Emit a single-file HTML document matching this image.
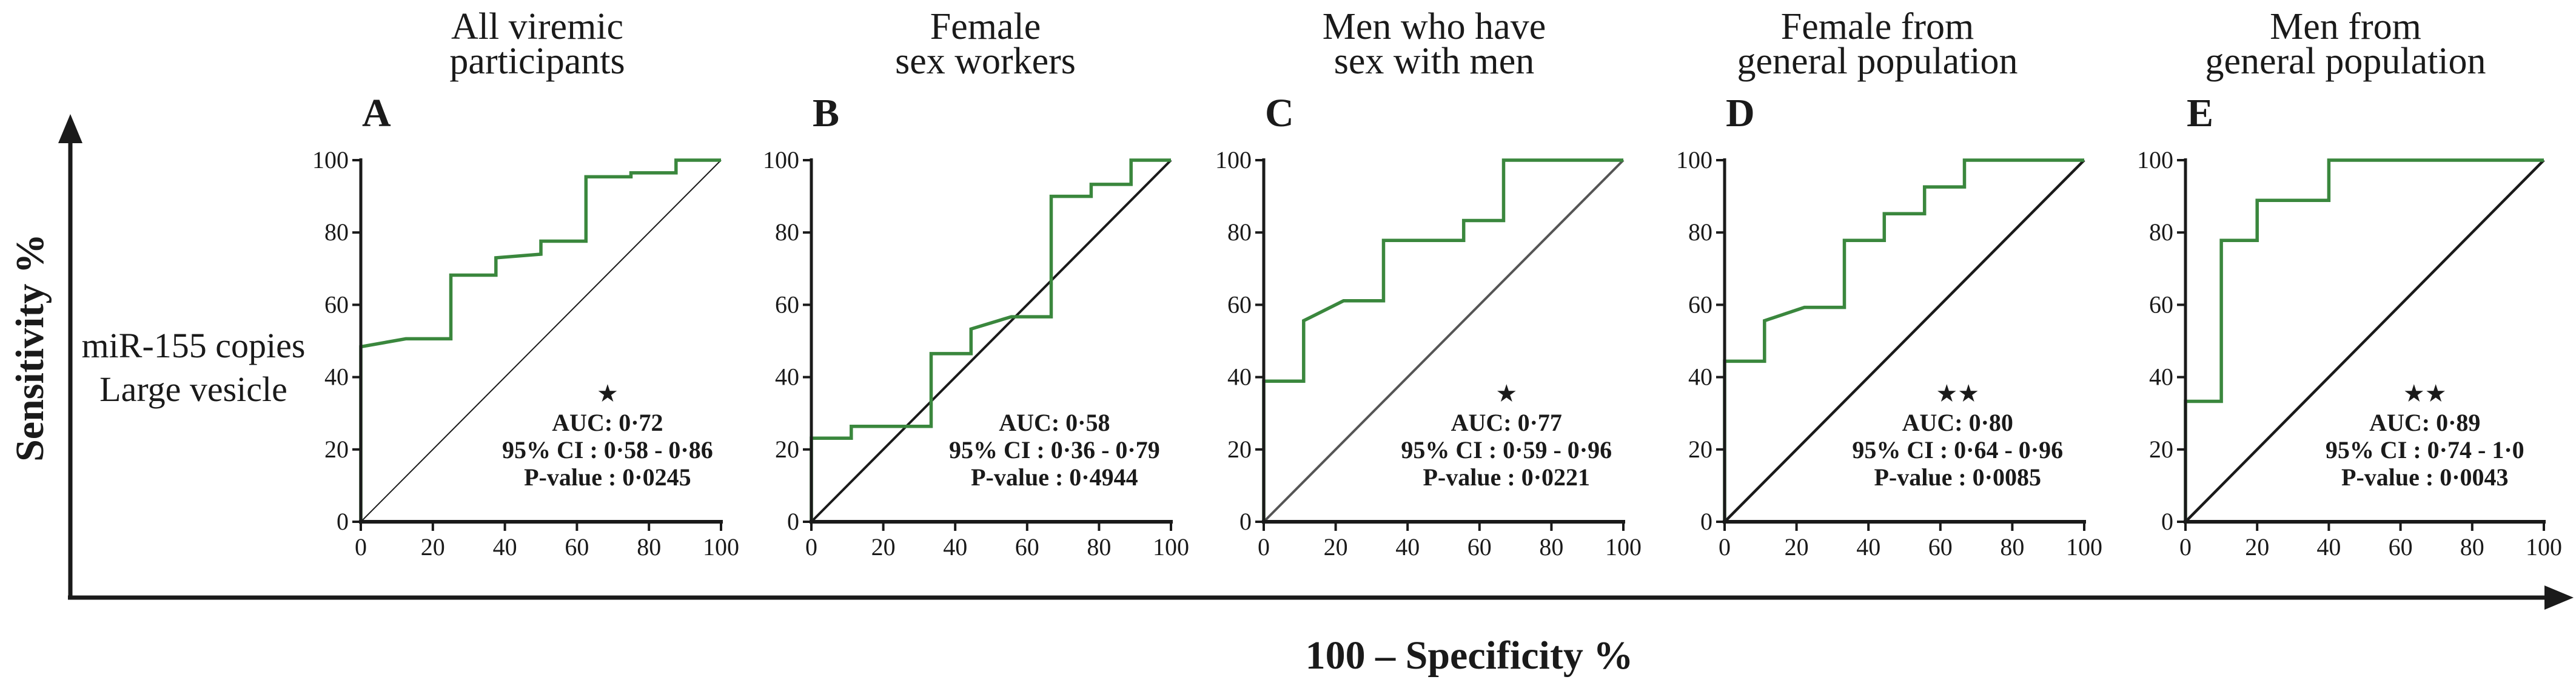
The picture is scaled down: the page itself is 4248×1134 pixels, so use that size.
<!DOCTYPE html>
<html><head><meta charset="utf-8"><style>
html,body{margin:0;padding:0;background:#fff;}
svg{display:block;}
text{font-family:"Liberation Serif",serif;fill:#1a1a1a;}
</style></head><body>
<svg id="fig" width="4248" height="1134" viewBox="0 0 4248 1134" xmlns="http://www.w3.org/2000/svg">
<g>
<line x1="116" y1="230" x2="116" y2="985" stroke="#1a1a1a" stroke-width="7"/>
<polygon points="116,188 96,236 136,236" fill="#1a1a1a"/>
<line x1="112" y1="985" x2="4200" y2="985" stroke="#1a1a1a" stroke-width="7"/>
<polygon points="4244,985 4196,965 4196,1005" fill="#1a1a1a"/>
<text transform="translate(71,573) rotate(-90)" text-anchor="middle" font-size="66" font-weight="bold">Sensitivity %</text>
<text x="2423" y="1102" text-anchor="middle" font-size="66" font-weight="bold">100 – Specificity %</text>
<text x="319" y="589" text-anchor="middle" font-size="58">miR-155 copies</text>
<text x="319" y="661" text-anchor="middle" font-size="58">Large vesicle</text>
</g>
<g id="panels"></g>
</svg>
<script>
// Panel A: All viremic participants
const fprA = [0,0,12.5,25,25,37.5,37.5,50,50,62.5,62.5,75,75,87.5,87.5,100];
const tprA = [0,48.4,50.6,50.6,68.2,68.2,73,74,77.6,77.6,95.4,95.4,96.5,96.5,100,100];
// Panel B: Female sex workers
const fprB = [0,0,11.1,11.1,33.3,33.3,44.4,44.4,55.6,66.7,66.7,77.8,77.8,88.9,88.9,100];
const tprB = [0,23.1,23.1,26.4,26.4,46.5,46.5,53.3,56.7,56.7,90,90,93.3,93.3,100,100];
// Panel C: Men who have sex with men
const fprC = [0,0,11.1,11.1,22.2,33.3,33.3,55.6,55.6,66.7,66.7,100];
const tprC = [0,38.9,38.9,55.6,61.1,61.1,77.8,77.8,83.3,83.3,100,100];
// Panel D: Female from general population
const fprD = [0,0,11.1,11.1,22.2,33.3,33.3,44.4,44.4,55.6,55.6,66.7,66.7,100];
const tprD = [0,44.4,44.4,55.6,59.3,59.3,77.8,77.8,85.2,85.2,92.6,92.6,100,100];
// Panel E: Men from general population
const fprE = [0,0,10,10,20,20,40,40,100];
const tprE = [0,33.3,33.3,77.8,77.8,88.9,88.9,100,100];

const tickValues = [0,20,40,60,80,100];
const panelLetters = ["A","B","C","D","E"];
const titleLine1 = ["All viremic","Female","Men who have","Female from","Men from"];
const titleLine2 = ["participants","sex workers","sex with men","general population","general population"];
const aucLabels = ["AUC: 0·72","AUC: 0·58","AUC: 0·77","AUC: 0·80","AUC: 0·89"];
const ciLabels = ["95% CI : 0·58 - 0·86","95% CI : 0·36 - 0·79","95% CI : 0·59 - 0·96","95% CI : 0·64 - 0·96","95% CI : 0·74 - 1·0"];
const pLabels = ["P-value : 0·0245","P-value : 0·4944","P-value : 0·0221","P-value : 0·0085","P-value : 0·0043"];
const starLabels = ["★","","★","★★","★★"];

const NS = "http://www.w3.org/2000/svg";
const layout = [
  {x0:595, w:594, tx:886, ax:0.685, diag:"#1a1a1a", dw:2},
  {x0:1338, w:593, tx:1625, ax:0.676, diag:"#1a1a1a", dw:4},
  {x0:2084, w:593, tx:2365, ax:0.675, diag:"#555", dw:4},
  {x0:2844, w:593, tx:3096, ax:0.648, diag:"#1a1a1a", dw:4.5},
  {x0:3604, w:591, tx:3868, ax:0.668, diag:"#1a1a1a", dw:4.5}
];
const fprs = [fprA,fprB,fprC,fprD,fprE];
const tprs = [tprA,tprB,tprC,tprD,tprE];
const yTop = 264, yBot = 860;
const root = document.getElementById("panels");
function mk(tag, attrs, parent){
  const e = document.createElementNS(NS, tag);
  for (const k in attrs) e.setAttribute(k, attrs[k]);
  parent.appendChild(e); return e;
}
layout.forEach((L, i) => {
  const xs = v => L.x0 + v/100*L.w;
  const ys = v => yBot - v/100*(yBot-yTop);
  const g = mk("g", {}, root);
  
  
  let t = mk("text", {x:L.tx, y:64, "text-anchor":"middle", "font-size":62}, g);
  t.textContent = titleLine1[i];
  
  
  t = mk("text", {x:L.tx, y:121, "text-anchor":"middle", "font-size":62}, g);
  t.textContent = titleLine2[i];
  
  
  t = mk("text", {x:L.x0 + 2, y:208, "font-size":66, "font-weight":"bold"}, g);
  t.textContent = panelLetters[i];
  
  
  let d = mk("line", {x1:xs(0), y1:ys(0), x2:xs(100), y2:ys(100), stroke:L.diag, "stroke-width":L.dw}, g);
  
  
  const pts = fprs[i].map((f, k) => xs(f).toFixed(1) + "," + ys(tprs[i][k]).toFixed(1)).join(" ");
  let c = mk("polyline", {points:pts, fill:"none", stroke:"#3a873d", "stroke-width":5.5, "stroke-linejoin":"miter"}, g);
  
  
  let a = mk("line", {x1:xs(0), y1:yTop-3, x2:xs(0), y2:yBot+3, stroke:"#1a1a1a", "stroke-width":5}, g);
  
  
  a = mk("line", {x1:xs(0)-3, y1:yBot, x2:xs(100)+3, y2:yBot, stroke:"#1a1a1a", "stroke-width":6}, g);
  
  
  tickValues.forEach(v => {
    let tk = mk("line", {x1:xs(0)-14, y1:ys(v), x2:xs(0), y2:ys(v), stroke:"#1a1a1a", "stroke-width":4}, g);
    
    
    let lb = mk("text", {x:xs(0)-20, y:ys(v)+13, "text-anchor":"end", "font-size":40}, g);
    lb.textContent = v;
    
    
    tk = mk("line", {x1:xs(v), y1:yBot, x2:xs(v), y2:yBot+15, stroke:"#1a1a1a", "stroke-width":4}, g);
    
    
    lb = mk("text", {x:xs(v), y:yBot+55, "text-anchor":"middle", "font-size":40}, g);
    lb.textContent = v;
    
    
  });
  const cx = L.x0 + L.ax*L.w;
  if (starLabels[i]) {
    let s = mk("text", {x:cx, y:662, "text-anchor":"middle", "font-size":40, "font-family":"DejaVu Sans, sans-serif"}, g);
    s.textContent = starLabels[i];
    
    
  }
  [[aucLabels[i],710,'auc-label'],[ciLabels[i],755,'ci-label'],[pLabels[i],800,'p-value-label']].forEach(r => {
    let s = mk("text", {x:cx, y:r[1], "text-anchor":"middle", "font-size":40, "font-weight":"bold"}, g);
    s.textContent = r[0];
    
    
  });
});
</script>
</body></html>
